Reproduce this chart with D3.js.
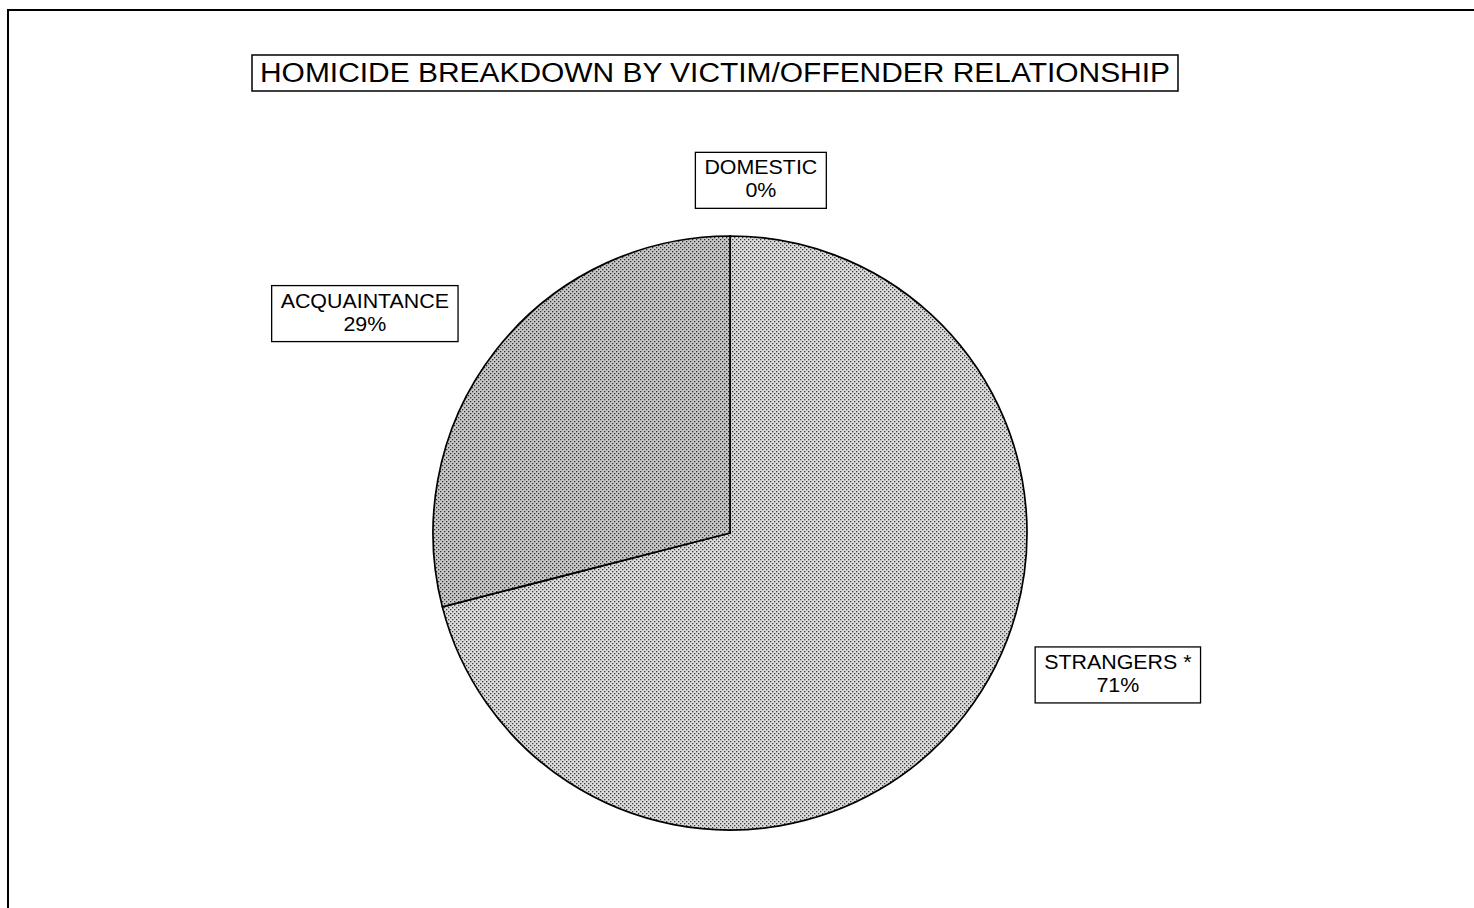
<!DOCTYPE html>
<html>
<head>
<meta charset="utf-8">
<script src="https://cdn.jsdelivr.net/npm/d3@7"></script>
<style>
  body { margin: 0; background: #fff; }
  svg { display: block; font-family: Arial, "Liberation Sans", sans-serif; }
</style>
</head>
<body>
<svg width="1474" height="908"></svg>
<script>
// data
var categories = ["DOMESTIC", "STRANGERS *", "ACQUAINTANCE"];
var percents = [0, 71, 29];
var titleText = "HOMICIDE BREAKDOWN BY VICTIM/OFFENDER RELATIONSHIP";

var svg = d3.select("svg"),
    width = +svg.attr("width"),
    height = +svg.attr("height"),
    cx = 730, cy = 533, radius = 297;

// dotted fills like the scanned print
var defs = svg.append("defs");
function dotPattern(id, bg, dot, size) {
  var p = defs.append("pattern")
      .attr("id", id)
      .attr("patternUnits", "userSpaceOnUse")
      .attr("width", size).attr("height", size);
  p.append("rect").attr("width", size).attr("height", size).attr("fill", bg);
  p.append("rect").attr("x", 0).attr("y", 0).attr("width", 1.3).attr("height", 1.3).attr("fill", dot);
  p.append("rect").attr("x", size / 2).attr("y", size / 2).attr("width", 1.3).attr("height", 1.3).attr("fill", dot);
}
dotPattern("dotLight", "#dcdcdc", "#3a3a3a", 4);
dotPattern("dotDark", "#c9c9c9", "#2e2e2e", 4);
var fills = { "DOMESTIC": "url(#dotLight)", "STRANGERS *": "url(#dotLight)", "ACQUAINTANCE": "url(#dotDark)" };

// outer frame (runs off right/bottom edge)
svg.append("rect")
    .attr("x", 8).attr("y", 10)
    .attr("width", width + 20).attr("height", height + 20)
    .attr("fill", "none")
    .attr("stroke", "#000")
    .attr("stroke-width", 2);

// title
svg.append("rect")
    .attr("x", 252).attr("y", 55)
    .attr("width", 926).attr("height", 36)
    .attr("fill", "#fff")
    .attr("stroke", "#000")
    .attr("stroke-width", 1.5);
svg.append("text")
    .attr("x", 715).attr("y", 82)
    .attr("text-anchor", "middle")
    .attr("textLength", 910)
    .attr("lengthAdjust", "spacingAndGlyphs")
    .style("font-size", "27px")
    .attr("fill", "#000")
    .text(titleText);

var data = categories.map(function(c, i) { return {name: c, value: percents[i]}; });

var pie = d3.pie().sort(null).value(function(d) { return d.value; });
var arc = d3.arc().innerRadius(0).outerRadius(radius);
var arcs = pie(data);

var g = svg.append("g").attr("transform", "translate(" + cx + "," + cy + ")");

g.selectAll(".slice")
  .data(arcs)
  .enter().append("path")
    .attr("class", "slice")
    .attr("d", arc)
    .attr("fill", function(d) { return fills[d.data.name]; })
    .attr("stroke", "#000")
    .attr("stroke-width", 1.7)
    .attr("stroke-linejoin", "round");

// label placement: distance and angle shift from each slice's mid angle
var labelLayout = {
  "DOMESTIC": {r: 354, shift: 5},
  "STRANGERS *": {r: 413, shift: -17.7},
  "ACQUAINTANCE": {r: 426, shift: -6.8}
};

var labels = g.selectAll(".label")
  .data(arcs)
  .enter().append("g")
    .attr("class", "label")
    .attr("transform", function(d) {
      var L = labelLayout[d.data.name];
      var a = (d.startAngle + d.endAngle) / 2 + L.shift * Math.PI / 180;
      return "translate(" + (L.r * Math.sin(a)) + "," + (-L.r * Math.cos(a)) + ")";
    });

labels.each(function(d) {
  var lg = d3.select(this);
  var tg = lg.append("g").attr("transform", "scale(1.07,1)");
  var t = tg.append("text")
      .attr("text-anchor", "middle")
      .style("font-size", "20px")
      .attr("fill", "#000");
  t.append("tspan").attr("x", 0).attr("y", -6).text(d.data.name);
  t.append("tspan").attr("x", 0).attr("y", 17).text(Math.round(d.data.value) + "%");
  var w = t.node().getBBox().width * 1.07;
  lg.insert("rect", "g")
      .attr("x", -w / 2 - 9).attr("y", -28)
      .attr("width", w + 18).attr("height", 56)
      .attr("fill", "#fff")
      .attr("stroke", "#000")
      .attr("stroke-width", 1.3);
});
</script>
</body>
</html>
